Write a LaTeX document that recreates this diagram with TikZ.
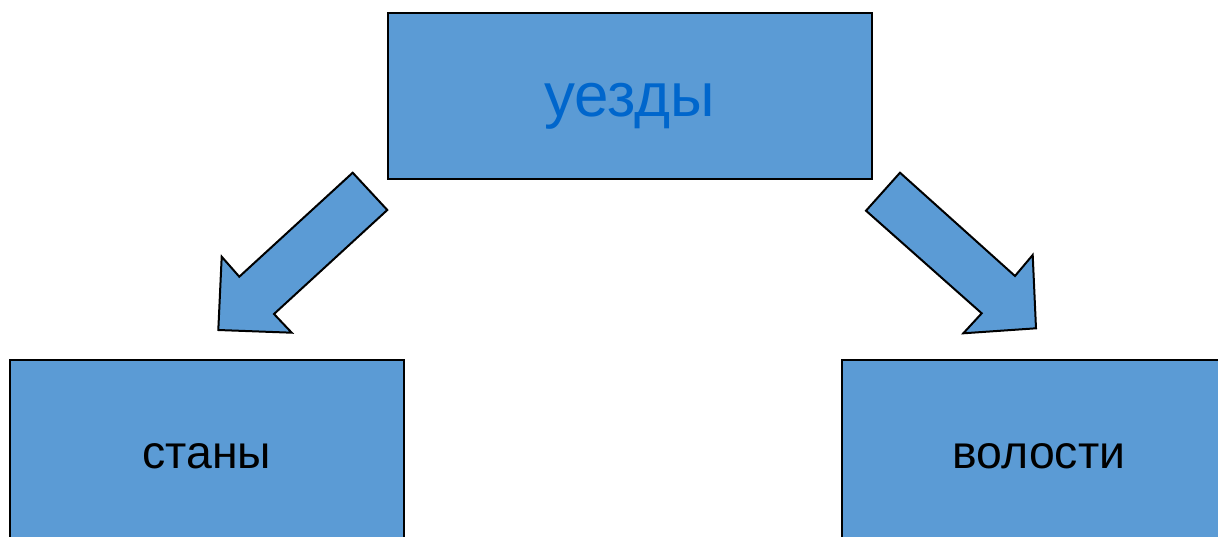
\documentclass[tikz,border=0pt]{standalone}
\usepackage{fontspec}
\setmainfont{Liberation Sans}
\definecolor{boxblue}{HTML}{5B9BD5}
\definecolor{textblue}{HTML}{0066CC}

\begin{document}
\begin{tikzpicture}[x=0.75pt, y=-0.75pt,
    unit/.style={draw=black, line width=1.5pt, fill=boxblue, inner sep=0pt},
    fatarrow/.style={draw=black, line width=1.5pt, fill=boxblue, line join=miter}]

  % Frame
  \clip (0,0) rectangle (1218,536);

  % Boxes
  \node[unit, minimum width=363pt, minimum height=124.7pt,
        text height=31pt, text depth=0pt,
        font=\fontsize{46.4}{56}\selectfont, text=textblue] (uezdy) at (630,95.8) {уезды};
  \node[unit, minimum width=295.5pt, minimum height=142.5pt,
        text height=20pt, text depth=0pt,
        font=\fontsize{34.8}{42}\selectfont] (stany) at (207,455) {станы};
  \node[unit, minimum width=295.5pt, minimum height=142.5pt,
        text height=20pt, text depth=0pt,
        font=\fontsize{34.8}{42}\selectfont] (volosti) at (1039,455) {волости};

  % Block arrows
  \draw[fatarrow] (352.7,172.7) -- (387.3,210) -- (274,314) -- (291.7,332.7)
    -- (218.3,330) -- (221.7,256.7) -- (239.3,276.7) -- cycle;
  \draw[fatarrow] (900,172.7) -- (866,210.7) -- (981.7,313.3) -- (963.3,333.3)
    -- (1036,328.3) -- (1032.7,255) -- (1015,276) -- cycle;

\end{tikzpicture}
\end{document}
